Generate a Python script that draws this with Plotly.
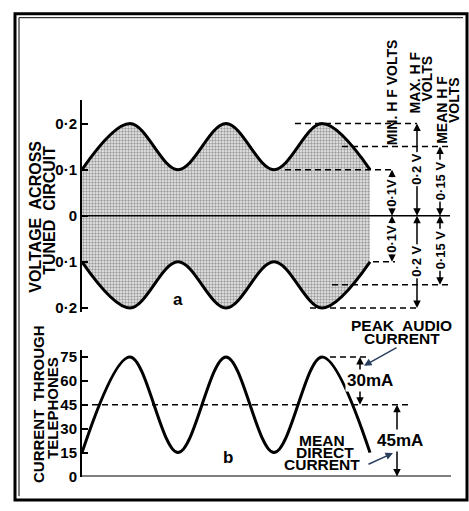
import plotly.graph_objects as go

W, H = 469, 511

# values
cycles = [0, 0.5, 1, 1.5, 2, 2.5, 3]
hf_envelope = [0.1, 0.2, 0.1, 0.2, 0.1, 0.2, 0.1]  # volts across tuned circuit
phone_current = [15, 75, 15, 75, 15, 75, 15]  # mA through telephones
volt_ticks = [0.2, 0.1, 0, -0.1, -0.2]
volt_labels = ["0·2", "0·1", "0", "0·1", "0·2"]
amp_ticks = [0, 15, 30, 45, 60, 75]
max_hf, mean_hf, min_hf = 0.2, 0.15, 0.1
peak_audio, mean_dc = 75, 45

X0, PX_PER_CYCLE = 82, 96


def cx(px):
    # pixel column -> cycle units on the x axes
    return (px - X0) / PX_PER_CYCLE


def pxp(px):
    return px / W


def pyp(py):
    return 1 - py / H


FONT = "Liberation Sans, Arial, sans-serif"
wave = dict(color="black", width=3, shape="spline")

fig = go.Figure()

# (a) modulated HF voltage envelope
fig.add_trace(go.Scatter(x=cycles, y=[-v for v in hf_envelope], mode="lines", line=wave,
                         xaxis="x", yaxis="y"))
fig.add_trace(go.Scatter(x=cycles, y=hf_envelope, mode="lines", line=wave, fill="tonexty",
                         fillcolor="#b8b8b8",
                         fillpattern=dict(shape=".", fgcolor="#4a4a4a", bgcolor="#eeeeee",
                                          size=3, solidity=0.5),
                         xaxis="x", yaxis="y"))
fig.add_trace(go.Scatter(x=[0, cx(450)], y=[0, 0], mode="lines",
                         line=dict(color="black", width=1.5), xaxis="x", yaxis="y"))

# (b) telephone current
fig.add_trace(go.Scatter(x=cycles, y=phone_current, mode="lines", line=wave,
                         xaxis="x2", yaxis="y2"))
fig.add_trace(go.Scatter(x=[0, cx(451)], y=[0, 0], mode="lines",
                         line=dict(color="black", width=2), xaxis="x2", yaxis="y2"))

shapes = []
dash = dict(color="black", width=1.5, dash="6px,4px")
for val, p0, p1 in [(max_hf, 295, 417), (mean_hf, 342, 448), (min_hf, 285, 392),
                    (-min_hf, 373, 395), (-mean_hf, 332, 448), (-max_hf, 310, 420)]:
    shapes.append(dict(type="line", xref="x", yref="y", x0=cx(p0), x1=cx(p1),
                       y0=val, y1=val, line=dash))
for val, p0, p1 in [(mean_dc, 82, 410), (peak_audio, 330, 366)]:
    shapes.append(dict(type="line", xref="x2", yref="y2", x0=cx(p0), x1=cx(p1),
                       y0=val, y1=val, line=dash))

# frame
shapes.append(dict(type="rect", xref="paper", yref="paper", x0=pxp(15), x1=pxp(467),
                   y0=pyp(508), y1=pyp(12), line=dict(color="black", width=3)))
shapes.append(dict(type="path", xref="paper", yref="paper",
                   path=f"M{pxp(19)},{pyp(504)} L{pxp(19)},{pyp(16)} L{pxp(463)},{pyp(16)}",
                   line=dict(color="black", width=1)))

ann = []


def text(t, px, py, size=13, angle=0, bg=None):
    ann.append(dict(text=t, x=pxp(px), y=pyp(py), xref="paper", yref="paper",
                    xanchor="center", yanchor="middle",
                    showarrow=False, textangle=angle, font=dict(size=size),
                    bgcolor=bg, borderpad=0))


def dim(xa, ya, px, v_from, v_to, label, lpx=None, size=13, angle=-90):
    mid = (v_from + v_to) / 2
    for end in (v_from, v_to):
        ann.append(dict(x=cx(px), y=end, xref=xa, yref=ya, ax=cx(px), ay=mid,
                        axref=xa, ayref=ya, text="", showarrow=True, arrowhead=2,
                        arrowsize=1, arrowwidth=1.5, arrowcolor="black", standoff=0))
    ann.append(dict(text=label, x=cx(lpx if lpx else px), y=mid, xref=xa, yref=ya,
                    xanchor="center", yanchor="middle", showarrow=False,
                    textangle=angle, font=dict(size=size), bgcolor="white", borderpad=1))


# right-hand dimension columns of (a)
dim("x", "y", 392, min_hf, 0, "0·1V")
dim("x", "y", 392, 0, -min_hf, "0·1V")
dim("x", "y", 417, max_hf, 0, "0·2 V")
dim("x", "y", 417, 0, -max_hf, "0·2 V")
dim("x", "y", 440, mean_hf, 0, "0·15 V")
dim("x", "y", 440, 0, -mean_hf, "0·15 V")
text("MIN. H F VOLTS", 392, 92, 14, -90)
text("MAX. H F", 415, 82, 14, -90)
text("VOLTS", 427, 78, 14, -90)
text("MEAN H F", 442, 110, 14, -90)
text("VOLTS", 454, 100, 14, -90)

# (b) dimensions
dim("x2", "y2", 360, peak_audio, mean_dc, "30mA", lpx=370, size=17, angle=0)
dim("x2", "y2", 397, mean_dc, 0, "45mA", lpx=400, size=17, angle=0)
text("PEAK  AUDIO", 401, 330, 15.5)
text("CURRENT", 402, 343, 15.5)
text("MEAN", 322, 447, 15.5)
text("DIRECT", 325, 459, 15.5)
text("CURRENT", 322, 472, 15.5)
ann.append(dict(x=pxp(364), y=pyp(371), xref="paper", yref="paper", ax=34, ay=-19,
                text="", showarrow=True, arrowhead=2, arrowwidth=1.5, standoff=0))
ann.append(dict(x=pxp(393), y=pyp(460), xref="paper", yref="paper", ax=-26, ay=12,
                text="", showarrow=True, arrowhead=2, arrowwidth=1.5, standoff=0))

# panel letters and axis titles
text("a", 178, 303, 17)
text("b", 228, 465, 17)
text("VOLTAGE  ACROSS", 36, 219, 16, -90)
text("TUNED  CIRCUIT", 50, 213, 16, -90)
text("CURRENT  THROUGH", 39, 410, 15, -90)
text("TELEPHONES", 53, 414, 15, -90)

yaxis_style = dict(showline=True, linecolor="black", linewidth=2, ticks="inside",
                   ticklen=6, tickwidth=1.5, tickcolor="black", showgrid=False,
                   zeroline=False, tickfont=dict(size=15), fixedrange=True)
xaxis_style = dict(visible=False, domain=[pxp(X0), 1], range=[0, cx(W)], fixedrange=True)

fig.update_layout(
    width=W, height=H,
    margin=dict(l=0, r=0, t=0, b=0),
    paper_bgcolor="white", plot_bgcolor="rgba(0,0,0,0)",
    showlegend=False,
    font=dict(family=FONT, color="black", weight="bold"),
    xaxis=dict(xaxis_style, anchor="y"),
    xaxis2=dict(xaxis_style, anchor="y2"),
    yaxis=dict(yaxis_style, anchor="x", domain=[pyp(316), pyp(100)],
               range=[-(316 - 218) / 470, (218 - 100) / 470],
               tickvals=volt_ticks, ticktext=volt_labels),
    yaxis2=dict(yaxis_style, anchor="x2", domain=[pyp(484), pyp(355)],
                range=[0, (484 - 355) * 15 / 24.4], tickvals=amp_ticks),
    shapes=shapes,
    annotations=ann,
)

# the page body has a default 8px margin; drop it so the figure fills the window
fig.write_html("out.html", config={"displayModeBar": False},
               post_script="document.body.style.margin='0';")
